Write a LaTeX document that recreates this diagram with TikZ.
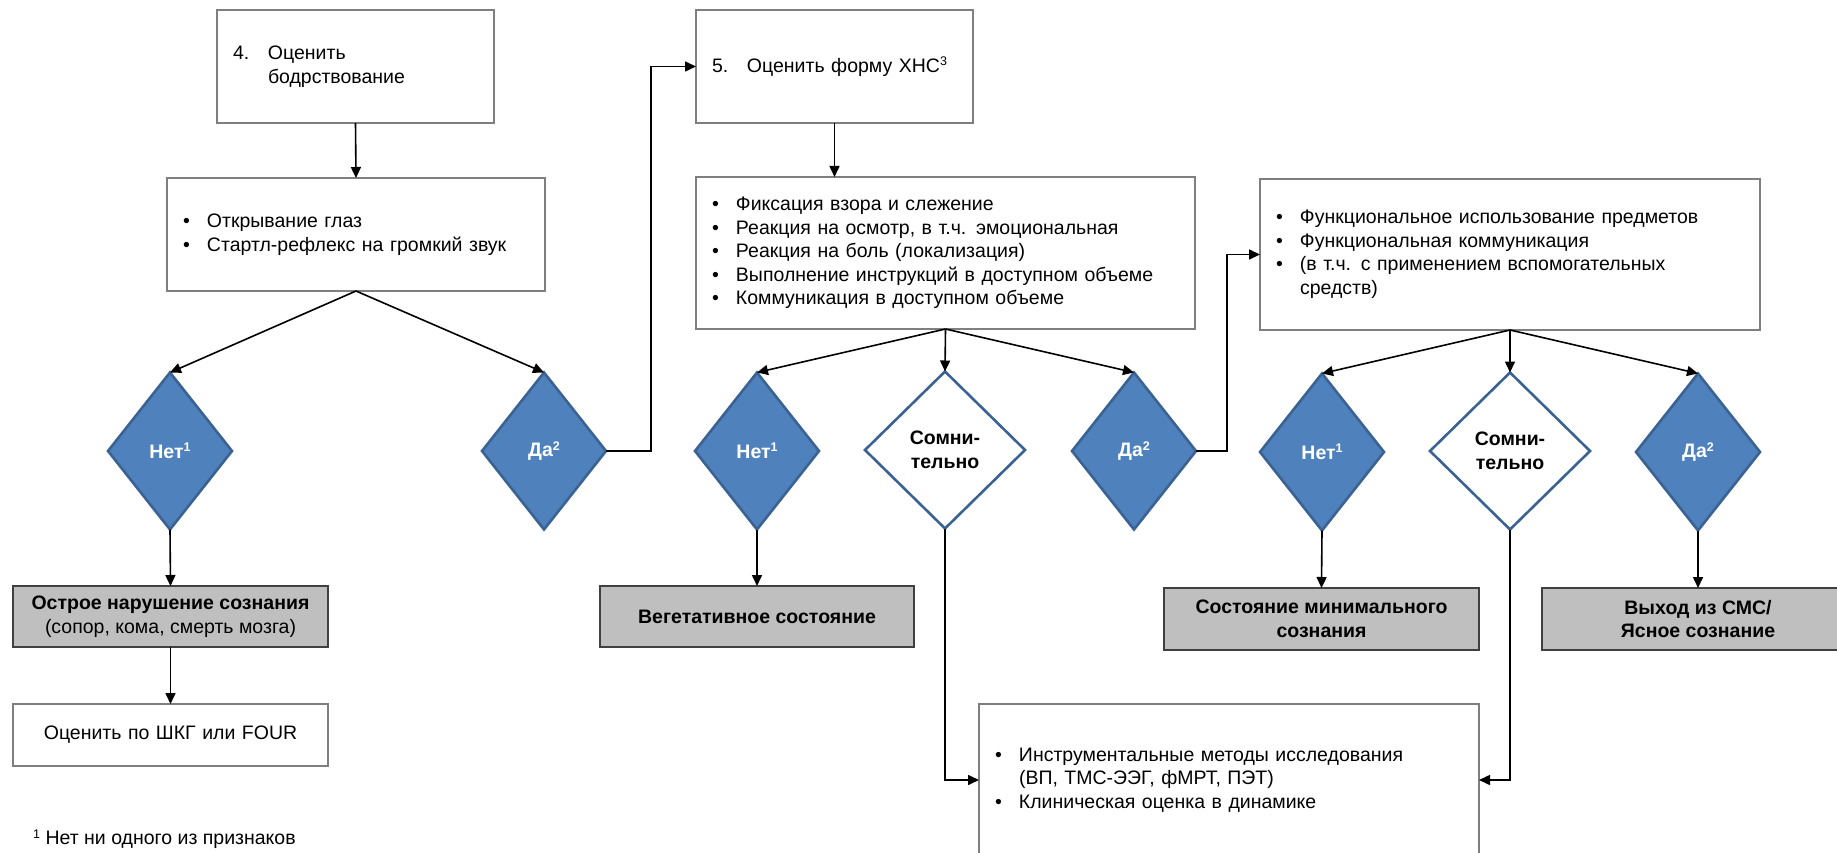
\documentclass[tikz,border=0pt]{standalone}
\usepackage{fontspec}
\setmainfont{Liberation Sans}
\usetikzlibrary{arrows.meta,shapes.geometric}
\definecolor{diablue}{HTML}{4F81BD}
\definecolor{diaedge}{HTML}{3A6292}
\definecolor{boxgray}{HTML}{BFBFBF}
\definecolor{boxedge}{HTML}{7F7F7F}
\newcommand{\fs}{\fontsize{19.5}{23.5}\selectfont}
\newcommand{\itm}{\makebox[24pt][l]{\textbullet}}
\newcommand{\ind}{\hspace*{24pt}}
\newcommand{\num}[1]{\makebox[35pt][l]{#1}}
\newcommand{\supr}[1]{\raisebox{6.5pt}{\fontsize{12.5}{12.5}\selectfont #1}}

\tikzset{
  txtbox/.style={draw=boxedge, line width=1.3pt, fill=white, inner xsep=16pt, inner ysep=0pt, outer sep=0pt, align=left, font=\fs},
  resbox/.style={draw=black!75, line width=1.5pt, fill=boxgray, inner sep=0pt, outer sep=0pt, align=center, font=\fs\bfseries},
  blued/.style={diamond, fill=diablue, draw=diaedge, line width=2.6pt, minimum width=124pt, minimum height=157pt, inner sep=0pt, outer sep=0pt, text=white, align=center, font=\fs\bfseries},
  whited/.style={blued, fill=white, minimum width=160pt, text=black},
  arr/.style={line width=1.6pt, -{Triangle[length=11pt,width=10pt]}}
}

\begin{document}
\begin{tikzpicture}[x=1pt,y=-1pt]
\useasboundingbox (0,0) rectangle (1837,853);

% steps 4 and 5
\node (b4) at (355.5,66.5) [txtbox, text width=245pt, minimum height=113pt]{\num{4.}Оценить\\\hspace*{35pt}бодрствование};
\node (open) at (356,234.5) [txtbox, text width=346pt, minimum height=113pt]{\itm Открывание глаз\\\itm Стартл-рефлекс на громкий звук};
\node (b5) at (834.5,66.5) [txtbox, text width=245pt, minimum height=113pt]{\num{5.}Оценить форму ХНС\supr{3}};
\node (signs) at (945.5,253) [txtbox, text width=467pt, minimum height=152pt]{\itm Фиксация взора и слежение\\\itm Реакция на осмотр, в т.ч. эмоциональная\\\itm Реакция на боль (локализация)\\\itm Выполнение инструкций в доступном объеме\\\itm Коммуникация в доступном объеме};
\node (func) at (1510,254.5) [txtbox, text width=468pt, minimum height=151pt]{\itm Функциональное использование предметов\\\itm Функциональная коммуникация\\\itm (в т.ч. с применением вспомогательных\\\ind средств)};

% decisions
\node (net1) at (170,451) [blued]{Нет\supr{1}};
\node (da1) at (544,451) [blued]{Да\supr{2}};
\node (net2) at (757,451) [blued]{Нет\supr{1}};
\node (som2) at (945,450) [whited]{Сомни-\\тельно};
\node (da2) at (1134,451) [blued]{Да\supr{2}};
\node (net3) at (1322,452) [blued]{Нет\supr{1}};
\node (som3) at (1510,451) [whited]{Сомни-\\тельно};
\node (da3) at (1698,452) [blued]{Да\supr{2}};

% outcomes
\node (acute) at (170.5,616.5) [resbox, minimum width=315pt, minimum height=61pt]{Острое нарушение сознания\\\mdseries(сопор, кома, смерть мозга)};
\node (gcs) at (170.5,735) [txtbox, inner xsep=0pt, text width=315pt, minimum height=62pt, align=center]{Оценить по ШКГ или FOUR};
\node (veg) at (757,616.5) [resbox, minimum width=314pt, minimum height=61pt]{Вегетативное состояние};
\node (mcs) at (1321.5,619) [resbox, minimum width=315pt, minimum height=62pt]{Состояние минимального\\сознания};
\node (exit) at (1698,619) [resbox, minimum width=312pt, minimum height=62pt]{Выход из СМС/\\Ясное сознание};
\node (instr) at (1229,780) [txtbox, text width=468pt, minimum height=152pt]{\itm Инструментальные методы исследования\\\ind (ВП, ТМС-ЭЭГ, фМРТ, ПЭТ)\\\itm Клиническая оценка в динамике};

\node (fn) at (33,839) [anchor=west, inner sep=0pt, font=\fs]{\supr{1} Нет ни одного из признаков};

% connectors
\draw[arr] (b4.south) -- (open.north);
\draw[arr] (open.south) -- (net1.north);
\draw[arr] (open.south) -- (da1.north);
\draw[arr] (net1.south) -- (acute.north);
\draw[arr] (acute.south) -- (gcs.north);
\draw[arr] (da1.east) -- ++(45,0) |- (b5.west);
\draw[arr] (b5.south) -- (b5.south |- signs.north);
\foreach \d in {net2,som2,da2}
  \draw[arr] (signs.south) -- (\d.north);
\draw[arr] (net2.south) -- (veg.north);
\draw[arr] (som2.south) |- (instr.west);
\draw[arr] (da2.east) -- ++(31,0) |- (func.west);
\foreach \d in {net3,som3,da3}
  \draw[arr] (func.south) -- (\d.north);
\draw[arr] (net3.south) -- (mcs.north);
\draw[arr] (da3.south) -- (exit.north);
\draw[arr] (som3.south) |- (instr.east);
\end{tikzpicture}
\end{document}
